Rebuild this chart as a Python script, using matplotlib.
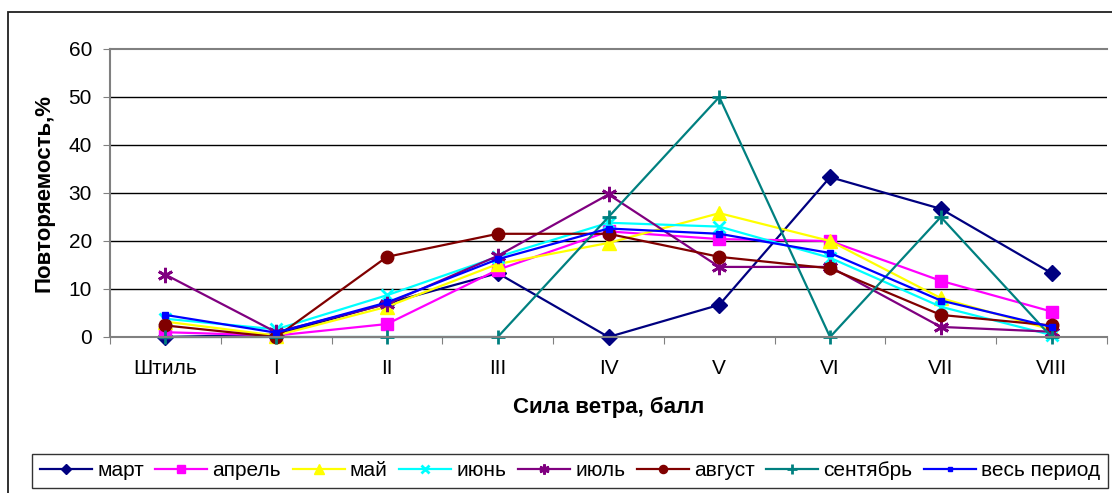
import matplotlib
matplotlib.use('Agg')
import matplotlib.pyplot as plt
from matplotlib.patches import Rectangle

plt.rcParams['font.family'] = ['Liberation Sans', 'DejaVu Sans']

# wind force categories
categories = ['Штиль', 'I', 'II', 'III', 'IV', 'V', 'VI', 'VII', 'VIII']

# frequency, %
mart = [0, 0.5, 7, 13.3, 0, 6.7, 33.3, 26.7, 13.3]
aprel = [1, 0.3, 2.7, 14, 22, 20.4, 20, 11.7, 5.3]
mai = [3.2, 0.3, 6.3, 15.2, 19.6, 25.8, 20, 8.1, 1.5]
iyun = [3.8, 1.6, 8.7, 16.7, 23.8, 23, 16.5, 6.3, 0.4]
iyul = [13, 1, 6.9, 16.9, 29.7, 14.6, 14.6, 2.1, 1.1]
avgust = [2.4, 0, 16.7, 21.5, 21.5, 16.7, 14.3, 4.6, 2.4]
sentyabr = [0, 0, 0, 0, 25, 50, 0, 25, 0]
ves_period = [4.6, 0.9, 7.2, 16.2, 22.6, 21.5, 17.5, 7.6, 2.1]

series = [
    ('март', mart, '#000080', 'D', 8),
    ('апрель', aprel, '#ff00ff', 's', 9),
    ('май', mai, '#ffff00', '^', 10),
    ('июнь', iyun, '#00ffff', 'x', 9),
    ('июль', iyul, '#800080', (6, 2, 0), 11),
    ('август', avgust, '#800000', 'o', 9),
    ('сентябрь', sentyabr, '#008080', '+', 10),
    ('весь период', ves_period, '#0000ff', 's', 5),
]

W, H = 1112, 493
fig = plt.figure(figsize=(W / 100, H / 100), dpi=100)
ax = fig.add_axes([110 / W, 1 - 337 / H, 997 / W, 288 / H])

x = list(range(len(categories)))
for name, vals, color, marker, ms in series:
    mew = 2 if marker in ('x', '+', (6, 2, 0)) else 1
    ax.plot(x, vals, color=color, lw=1.6, marker=marker, ms=ms,
            mew=mew, mec=color, mfc=color, label=name, clip_on=False)

ax.set_xlim(-0.5, len(categories) - 0.5)
ax.set_ylim(0, 60)
ax.set_yticks(range(0, 61, 10))
ax.set_xticks([i - 0.5 for i in range(len(categories) + 1)])
ax.set_xticklabels([])
ax.set_xticks(x, minor=True)
ax.set_xticklabels(categories, minor=True)
ax.tick_params(axis='x', which='major', length=5, color='#808080',
               direction='out')
ax.tick_params(axis='x', which='minor', length=0, pad=16, labelsize=15)
ax.tick_params(axis='y', length=5, color='#808080', direction='out',
               pad=8, labelsize=15)

for v in range(10, 60, 10):
    ax.axhline(v, color='black', lw=1, zorder=0)
for s in ('left', 'bottom', 'top'):
    ax.spines[s].set_color('#808080')
    ax.spines[s].set_linewidth(1.5)
ax.spines['right'].set_visible(False)

ax.set_ylabel('Повторяемость,%', fontsize=16, fontweight='bold', labelpad=10)
ax.set_xlabel('Сила ветра, балл', fontsize=16, fontweight='bold', labelpad=13)

leg = fig.legend(loc='center', bbox_to_anchor=(570 / W, 1 - 471 / H),
                 ncol=8, fontsize=15, frameon=True, fancybox=False,
                 edgecolor='black', handlelength=2.5, handletextpad=0.25,
                 columnspacing=0.55, borderpad=0.35, borderaxespad=0,
                 markerscale=0.65)
leg.get_frame().set_linewidth(1)

fig.add_artist(Rectangle((8 / W, -0.1), 1.2, 1.1 - 12 / H,
                         transform=fig.transFigure, fill=False,
                         edgecolor='#202020', lw=1.3))

fig.savefig('out.png', dpi=100)
